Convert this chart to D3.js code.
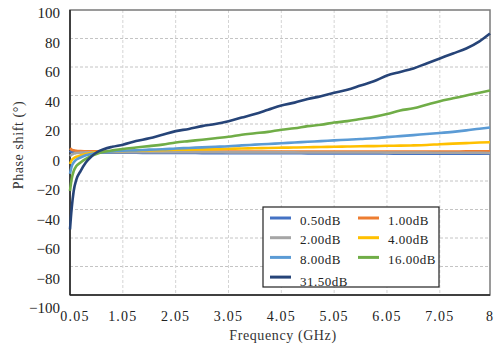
<!DOCTYPE html>
<html>
<head>
<meta charset="utf-8">
<script src="https://cdn.jsdelivr.net/npm/d3@7"></script>
<style>
  body { margin: 0; background: #fff; }
  svg { display: block; }
  .tick-label { font-family: "Liberation Serif", serif; font-size: 15px; fill: #222; }
  .axis-title { font-family: "Liberation Serif", serif; font-size: 14px; fill: #333; letter-spacing: 0.6px; }
  .legend-text { font-family: "Liberation Serif", serif; font-size: 13px; fill: #222; letter-spacing: 0.5px; }
</style>
</head>
<body>
<svg id="chart" width="504" height="347"></svg>
<script>
'use strict';

// Frequency samples (GHz)
var freqs = [0.05, 0.08, 0.12, 0.17, 0.25, 0.35, 0.45, 0.55, 0.7, 0.85, 1.05, 1.3, 1.55, 1.8, 2.05, 2.3, 2.55, 2.8,
  3.05, 3.3, 3.55, 3.8, 4.05, 4.3, 4.55, 4.8, 5.05, 5.3, 5.55, 5.8, 6.05, 6.3, 6.55, 6.8, 7.05, 7.3, 7.55, 7.8, 8.0];

// Phase shift (deg) per attenuation state
var db050 = [1.5, 0.8, 0.5, 0.4, 0.3, 0.3, 0.2, 0.2, 0.2, 0.1, 0.1, 0.1, 0, 0, 0, 0, -0.1, -0.1,
  -0.1, -0.1, -0.2, -0.2, -0.2, -0.2, -0.3, -0.3, -0.3, -0.3, -0.4, -0.4, -0.4, -0.5, -0.5, -0.5, -0.5, -0.6, -0.6, -0.6, -0.6];
var db100 = [3, 2, 1.5, 1.2, 1, 0.9, 0.8, 0.8, 0.7, 0.7, 0.7, 0.7, 0.7, 0.6, 0.6, 0.6, 0.6, 0.6,
  0.6, 0.6, 0.6, 0.6, 0.6, 0.6, 0.6, 0.6, 0.6, 0.6, 0.6, 0.6, 0.6, 0.6, 0.6, 0.6, 0.7, 0.7, 0.8, 0.8, 0.8];
var db200 = [-2.5, -1.5, -0.8, -0.4, -0.1, 0.1, 0.2, 0.2, 0.2, 0.2, 0.2, 0.2, 0.2, 0.2, 0.2, 0.2, 0.2, 0.2,
  0.1, 0.1, 0.1, 0.1, 0.1, 0.1, 0, 0, 0, 0, 0, 0, -0.1, -0.1, -0.1, -0.1, -0.2, -0.2, -0.2, -0.2, -0.3];
var db400 = [-8, -5.5, -4, -3, -2, -1, -0.3, 0.2, 0.6, 0.9, 1.1, 1.3, 1.5, 1.7, 1.9, 2, 2.2, 2.4,
  2.6, 2.8, 3, 3.2, 3.4, 3.5, 3.7, 3.9, 4, 4.2, 4.4, 4.5, 4.7, 4.8, 5, 5.3, 5.8, 6.2, 6.6, 7, 7.2];
var db800 = [-15, -10, -7, -5, -3.5, -2, -1, -0.3, 0.3, 0.8, 1.2, 1.5, 2, 2.3, 2.8, 3.2, 3.6, 4,
  4.4, 5, 5.5, 6, 6.5, 7, 7.5, 8, 8.5, 9, 9.5, 10, 10.8, 11.5, 12.2, 13, 13.7, 14.5, 15.5, 16.7, 17.5];
var db1600 = [-27, -19, -13, -9.5, -7, -4.5, -2.5, -1, 0.5, 1.5, 2.5, 3.5, 4.5, 5.5, 7, 8, 9, 10,
  11, 12.5, 13.5, 14.5, 16, 17, 18.5, 19.5, 21, 22, 23.5, 25, 27, 29.5, 31, 33.5, 36, 38, 40, 42, 43.5];
var db3150 = [-54, -40, -27, -19, -13, -7, -3, 0, 2.5, 4, 5.5, 8, 10, 12.5, 15, 16.5, 18.5, 20,
  22, 24.5, 27, 30, 33, 35, 37.5, 39.5, 42, 44, 47, 50, 54, 56.5, 59, 62.5, 66, 69.5, 73, 78, 83.5];

var seriesNames = ['0.50dB', '1.00dB', '2.00dB', '4.00dB', '8.00dB', '16.00dB', '31.50dB'];
var seriesValues = [db050, db100, db200, db400, db800, db1600, db3150];
var seriesColors = ['#4472C4', '#ED7D31', '#A5A5A5', '#FFC000', '#5B9BD5', '#70AD47', '#264478'];

var xTicks = [0.05, 1.05, 2.05, 3.05, 4.05, 5.05, 6.05, 7.05, 8];
var xTickLabels = ['0.05', '1.05', '2.05', '3.05', '4.05', '5.05', '6.05', '7.05', '8'];
var yTicks = [100, 80, 60, 40, 20, 0, -20, -40, -60, -80, -100];

var margin = { top: 10, right: 14, bottom: 52, left: 70 };
var width = 504, height = 347;
var graphWidth = width - margin.left - margin.right;
var graphHeight = height - margin.top - margin.bottom;

var xScale = d3.scaleLinear().domain([0.05, 8]).range([0, graphWidth]);
var yScale = d3.scaleLinear().domain([-100, 100]).range([graphHeight, 0]);

var svg = d3.select('#chart');
var graph = svg.append('g').attr('transform', 'translate(' + margin.left + ',' + margin.top + ')');

//Gridlines
graph.append('g').selectAll('line.hgrid').data(yTicks.filter(function (d) { return d > -100 && d < 100; }))
  .enter().append('line')
  .attr('x1', 0).attr('x2', graphWidth)
  .attr('y1', function (d) { return yScale(d); }).attr('y2', function (d) { return yScale(d); })
  .attr('stroke', '#c4c4c4').attr('stroke-dasharray', '3,2').attr('stroke-width', 1);

graph.append('g').selectAll('line.vgrid').data(xTicks.filter(function (d) { return d > 0.05 && d < 8; }))
  .enter().append('line')
  .attr('y1', 0).attr('y2', graphHeight)
  .attr('x1', function (d) { return xScale(d); }).attr('x2', function (d) { return xScale(d); })
  .attr('stroke', '#d4d4d4').attr('stroke-dasharray', '3,2').attr('stroke-width', 1);

//Frame
graph.append('rect').attr('x', 0).attr('y', 0).attr('width', graphWidth).attr('height', graphHeight)
  .attr('fill', 'none').attr('stroke', '#7a7a7a').attr('stroke-width', 1.5);
graph.append('line').attr('x1', 0).attr('x2', 0).attr('y1', 0).attr('y2', graphHeight)
  .attr('stroke', '#222').attr('stroke-width', 1.5);
graph.append('line').attr('x1', 0).attr('x2', graphWidth).attr('y1', graphHeight).attr('y2', graphHeight)
  .attr('stroke', '#222').attr('stroke-width', 1.5);

//Lines
var line = d3.line()
  .x(function (d) { return xScale(d[0]); })
  .y(function (d) { return yScale(d[1]); })
  .curve(d3.curveMonotoneX);

seriesValues.forEach(function (vals, i) {
  var pts = freqs.map(function (f, j) { return [f, vals[j]]; });
  graph.append('path').datum(pts)
    .attr('fill', 'none')
    .attr('stroke', seriesColors[i])
    .attr('stroke-width', i === 0 ? 3.5 : 2.6)
    .attr('stroke-linejoin', 'round')
    .attr('d', line);
});

//Y tick labels (drift downward slightly, as in the reference)
graph.append('g').selectAll('text').data(yTicks).enter().append('text')
  .classed('tick-label', true)
  .attr('x', -10)
  .attr('y', function (d) { return yScale(d) + 3 + (100 - d) * 0.05; })
  .attr('dy', '0.35em')
  .style('text-anchor', 'end')
  .text(function (d) { return d < 0 ? '\u2212' + Math.abs(d) : d; });

//X tick labels
graph.append('g').selectAll('text').data(xTicks).enter().append('text')
  .classed('tick-label', true)
  .style('font-size', '14px')
  .style('letter-spacing', '1.2px')
  .attr('x', function (d, i) { return xScale(d) + (i === 0 ? 5 : 0); })
  .attr('y', graphHeight + 21)
  .attr('dy', '0.35em')
  .style('text-anchor', 'middle')
  .text(function (d, i) { return xTickLabels[i]; });

//Axis titles
graph.append('text').classed('axis-title', true)
  .attr('x', graphWidth / 2 + 3).attr('y', graphHeight + 40)
  .attr('dy', '0.35em')
  .style('text-anchor', 'middle')
  .text('Frequency (GHz)');

svg.append('text').classed('axis-title', true)
  .attr('transform', 'translate(18,' + 145 + ') rotate(-90)')
  .attr('dy', '0.35em')
  .style('text-anchor', 'middle')
  .text('Phase shift (°)');

//Legend
var legend = svg.append('g').attr('transform', 'translate(263,207)');
legend.append('rect').attr('width', 176).attr('height', 80)
  .attr('fill', '#fff').attr('stroke', '#222').attr('stroke-width', 1.2);

var items = legend.selectAll('g.item').data(seriesNames).enter().append('g')
  .attr('transform', function (d, i) {
    return 'translate(' + (i % 2 === 0 ? 7 : 95) + ',' + (11 + Math.floor(i / 2) * 19.7) + ')';
  });
items.append('line').attr('x1', 0).attr('x2', 21).attr('y1', 0).attr('y2', 0)
  .attr('stroke', function (d, i) { return seriesColors[i]; }).attr('stroke-width', 3);
items.append('text').classed('legend-text', true)
  .attr('x', 30).attr('y', function (d, i) { return i === 6 ? 4 : 2; })
  .attr('dy', '0.35em')
  .text(function (d) { return d; });
</script>
</body>
</html>
